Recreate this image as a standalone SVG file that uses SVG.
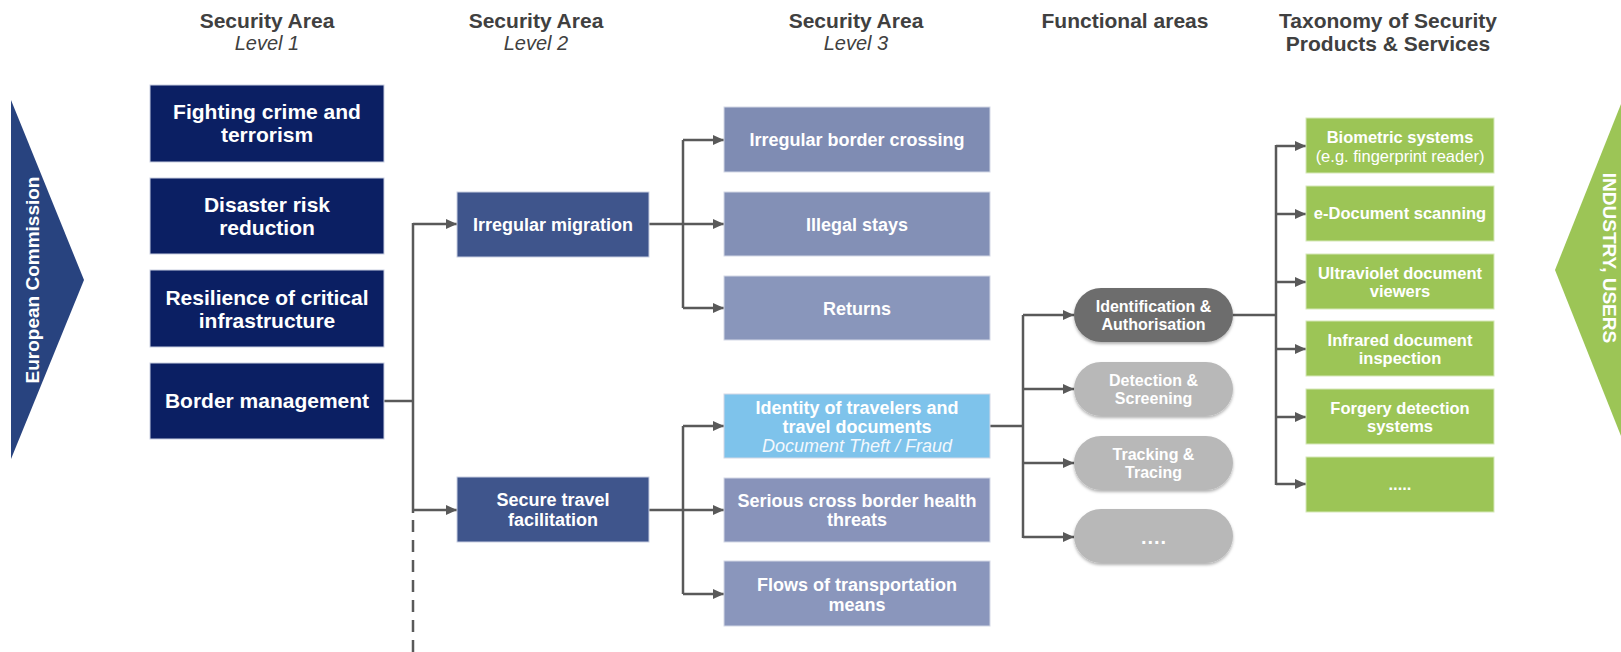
<svg xmlns="http://www.w3.org/2000/svg" width="1621" height="652" viewBox="0 0 1621 652">
<defs>
<style>
text{font-family:"Liberation Sans",Arial,sans-serif;text-anchor:middle}
.hd{font-size:21px;font-weight:bold;fill:#404040}
.hi{font-size:20px;font-style:italic;fill:#404040}
.t1{font-size:21px;font-weight:bold;fill:#ffffff}
.t2{font-size:18px;font-weight:bold;fill:#ffffff}
.t3{font-size:18px;font-weight:bold;fill:#ffffff}
.ti{font-size:18px;font-style:italic;fill:#f2f8fd}
.tp{font-size:16px;font-weight:bold;fill:#ffffff}
.tg{font-size:16.5px;font-weight:bold;fill:#ffffff}
.tgr{font-size:16.5px;fill:#ffffff}
.dots{font-size:20px;font-weight:bold;fill:#ffffff;letter-spacing:1px}
.side{font-size:19px;font-weight:bold;fill:#ffffff}
.l1{fill:#0b1f63;stroke:#c9cfe2;stroke-width:1}
.l2{fill:#3f558c;stroke:#c9cfe2;stroke-width:1}
.l3{stroke:#d3d8e6;stroke-width:1}
.gr{fill:#9cc556;stroke:#d6e8b8;stroke-width:1}
.conn{fill:none;stroke:#595959;stroke-width:2.5}
</style>
<marker id="ah" markerUnits="userSpaceOnUse" markerWidth="11" markerHeight="10" refX="11" refY="5" orient="auto">
<path d="M0,0 L11,5 L0,10 z" fill="#595959"/>
</marker>
<filter id="sh" x="-10%" y="-20%" width="120%" height="150%">
<feDropShadow dx="0" dy="2" stdDeviation="1.5" flood-color="#000" flood-opacity="0.3"/>
</filter>
</defs>

<g id="headers">
<text class="hd" x="267" y="28">Security Area</text>
<text class="hi" x="267" y="50">Level 1</text>
<text class="hd" x="536" y="28">Security Area</text>
<text class="hi" x="536" y="50">Level 2</text>
<text class="hd" x="856" y="28">Security Area</text>
<text class="hi" x="856" y="50">Level 3</text>
<text class="hd" x="1125" y="28">Functional areas</text>
<text class="hd" x="1388" y="28">Taxonomy of Security</text>
<text class="hd" x="1388" y="51">Products &amp; Services</text>
</g>

<g id="european-commission">
<polygon points="11,100 84,280 11,459" fill="#28437f"/>
<text class="side" transform="translate(39,280) rotate(-90)" x="0" y="0">European Commission</text>
</g>

<g id="industry-users">
<polygon points="1555,270 1621,104 1621,436" fill="#9cc556"/>
<text class="side" transform="translate(1603,258) rotate(90)" x="0" y="0">INDUSTRY, USERS</text>
</g>

<g id="connectors">
<path class="conn" d="M384,401 H413"/>
<path class="conn" d="M413,223 V513"/>
<path class="conn" d="M413,224 H457" marker-end="url(#ah)"/>
<path class="conn" d="M413,510 H457" marker-end="url(#ah)"/>
<path class="conn" d="M413,520 V652" stroke-dasharray="12 8"/>
<path class="conn" d="M649,224 H724" marker-end="url(#ah)"/>
<path class="conn" d="M683,140 V308"/>
<path class="conn" d="M683,140 H724" marker-end="url(#ah)"/>
<path class="conn" d="M683,308 H724" marker-end="url(#ah)"/>
<path class="conn" d="M649,510 H724" marker-end="url(#ah)"/>
<path class="conn" d="M683,426 V594"/>
<path class="conn" d="M683,426 H724" marker-end="url(#ah)"/>
<path class="conn" d="M683,594 H724" marker-end="url(#ah)"/>
<path class="conn" d="M990,426 H1023"/>
<path class="conn" d="M1023,315 V538"/>
<path class="conn" d="M1023,315 H1074" marker-end="url(#ah)"/>
<path class="conn" d="M1023,389 H1074" marker-end="url(#ah)"/>
<path class="conn" d="M1023,463 H1074" marker-end="url(#ah)"/>
<path class="conn" d="M1023,537 H1074" marker-end="url(#ah)"/>
<path class="conn" d="M1233,315 H1276"/>
<path class="conn" d="M1276,145 V485"/>
<path class="conn" d="M1276,146 H1306" marker-end="url(#ah)"/>
<path class="conn" d="M1276,214 H1306" marker-end="url(#ah)"/>
<path class="conn" d="M1276,282 H1306" marker-end="url(#ah)"/>
<path class="conn" d="M1276,349 H1306" marker-end="url(#ah)"/>
<path class="conn" d="M1276,417 H1306" marker-end="url(#ah)"/>
<path class="conn" d="M1276,484 H1306" marker-end="url(#ah)"/>
</g>

<g id="fighting-crime">
<rect class="l1" x="150" y="85" width="234" height="77"/>
<text class="t1" x="267" y="119">Fighting crime and</text>
<text class="t1" x="267" y="142">terrorism</text>
</g>
<g id="disaster-risk">
<rect class="l1" x="150" y="178" width="234" height="76"/>
<text class="t1" x="267" y="212">Disaster risk</text>
<text class="t1" x="267" y="235">reduction</text>
</g>
<g id="resilience">
<rect class="l1" x="150" y="270" width="234" height="77"/>
<text class="t1" x="267" y="305">Resilience of critical</text>
<text class="t1" x="267" y="328">infrastructure</text>
</g>
<g id="border-management">
<rect class="l1" x="150" y="363" width="234" height="76"/>
<text class="t1" x="267" y="408">Border management</text>
</g>

<g id="irregular-migration">
<rect class="l2" x="457" y="192" width="192" height="65"/>
<text class="t2" x="553" y="231">Irregular migration</text>
</g>
<g id="secure-travel">
<rect class="l2" x="457" y="477" width="192" height="65"/>
<text class="t2" x="553" y="506">Secure travel</text>
<text class="t2" x="553" y="526">facilitation</text>
</g>

<g id="irregular-border-crossing">
<rect class="l3" x="724" y="107" width="266" height="65" fill="#7f8cb3"/>
<text class="t3" x="857" y="146">Irregular border crossing</text>
</g>
<g id="illegal-stays">
<rect class="l3" x="724" y="192" width="266" height="64" fill="#8390b6"/>
<text class="t3" x="857" y="231">Illegal stays</text>
</g>
<g id="returns">
<rect class="l3" x="724" y="276" width="266" height="64" fill="#8996bb"/>
<text class="t3" x="857" y="315">Returns</text>
</g>
<g id="identity-travelers">
<rect class="l3" x="724" y="394" width="266" height="64" fill="#7ec3eb" stroke="#bfe2f5"/>
<text class="t3" x="857" y="414">Identity of travelers and</text>
<text class="t3" x="857" y="433">travel documents</text>
<text class="ti" x="857" y="452">Document Theft / Fraud</text>
</g>
<g id="health-threats">
<rect class="l3" x="724" y="478" width="266" height="64" fill="#8893ba"/>
<text class="t3" x="857" y="507">Serious cross border health</text>
<text class="t3" x="857" y="526">threats</text>
</g>
<g id="transportation-flows">
<rect class="l3" x="724" y="561" width="266" height="65" fill="#8a96bc"/>
<text class="t3" x="857" y="591">Flows of transportation</text>
<text class="t3" x="857" y="611">means</text>
</g>

<g id="identification">
<rect x="1074" y="288" width="159" height="54" rx="27" fill="#6d6d6d" filter="url(#sh)"/>
<text class="tp" x="1153.5" y="312">Identification &amp;</text>
<text class="tp" x="1153.5" y="330">Authorisation</text>
</g>
<g id="detection">
<rect x="1074" y="362" width="159" height="54" rx="27" fill="#b8b8b8" filter="url(#sh)"/>
<text class="tp" x="1153.5" y="386">Detection &amp;</text>
<text class="tp" x="1153.5" y="404">Screening</text>
</g>
<g id="tracking">
<rect x="1074" y="436" width="159" height="54" rx="27" fill="#b8b8b8" filter="url(#sh)"/>
<text class="tp" x="1153.5" y="460">Tracking &amp;</text>
<text class="tp" x="1153.5" y="478">Tracing</text>
</g>
<g id="more-functional">
<rect x="1074" y="509" width="159" height="54" rx="27" fill="#b8b8b8" filter="url(#sh)"/>
<text class="dots" x="1154" y="544">....</text>
</g>

<g id="biometric">
<rect class="gr" x="1306" y="118" width="188" height="55"/>
<text class="tg" x="1400" y="143">Biometric systems</text>
<text class="tgr" x="1400" y="162">(e.g. fingerprint reader)</text>
</g>
<g id="e-document">
<rect class="gr" x="1306" y="186" width="188" height="55"/>
<text class="tg" x="1400" y="219">e-Document scanning</text>
</g>
<g id="ultraviolet">
<rect class="gr" x="1306" y="254" width="188" height="55"/>
<text class="tg" x="1400" y="279">Ultraviolet document</text>
<text class="tg" x="1400" y="297">viewers</text>
</g>
<g id="infrared">
<rect class="gr" x="1306" y="321" width="188" height="55"/>
<text class="tg" x="1400" y="346">Infrared document</text>
<text class="tg" x="1400" y="364">inspection</text>
</g>
<g id="forgery">
<rect class="gr" x="1306" y="389" width="188" height="55"/>
<text class="tg" x="1400" y="414">Forgery detection</text>
<text class="tg" x="1400" y="432">systems</text>
</g>
<g id="more-products">
<rect class="gr" x="1306" y="457" width="188" height="55"/>
<text class="tg" x="1400" y="490">.....</text>
</g>
</svg>
